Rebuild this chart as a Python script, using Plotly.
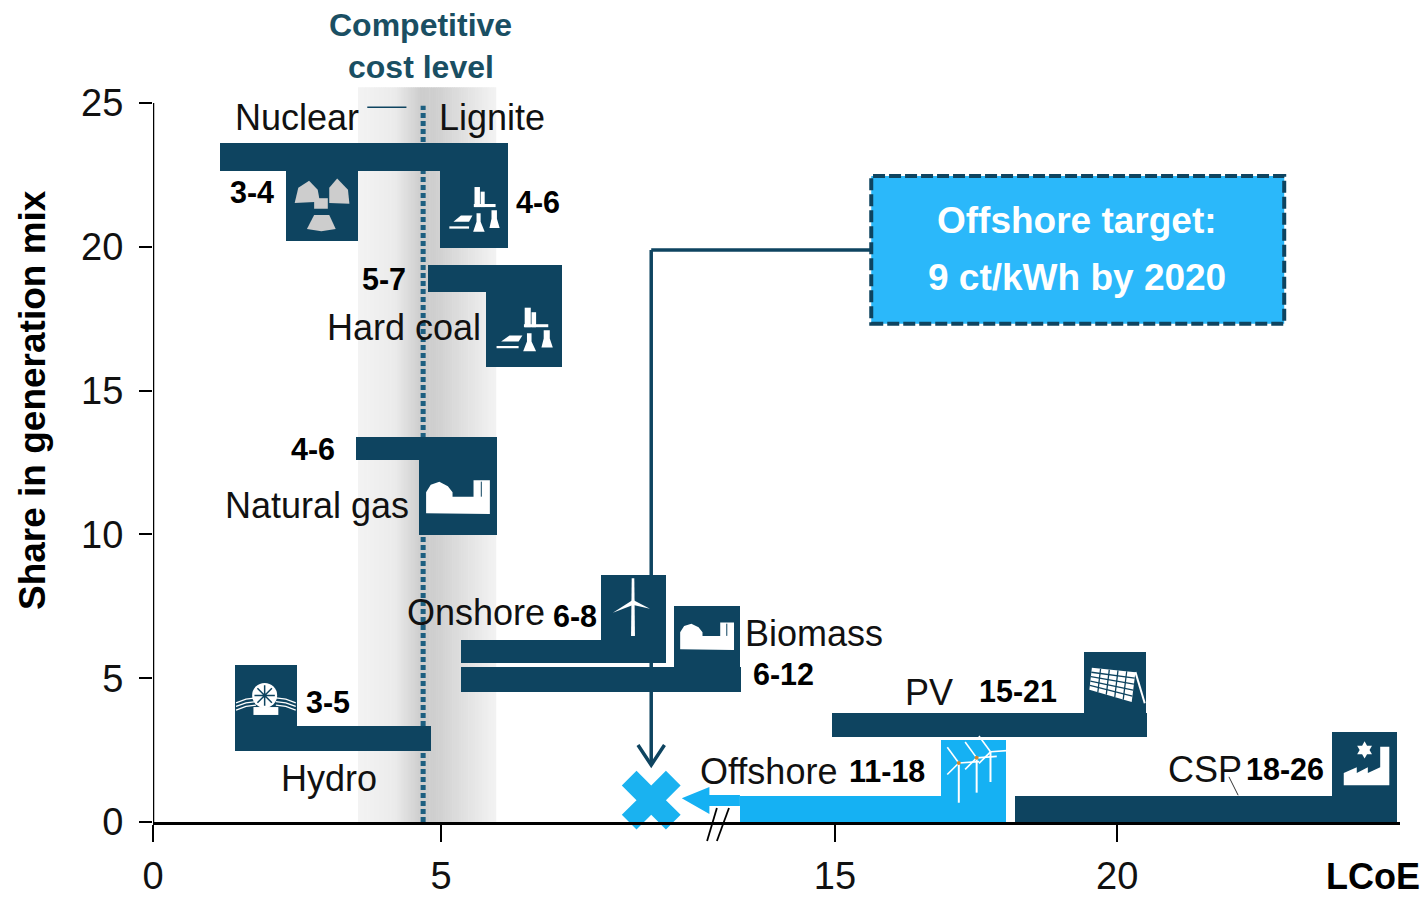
import numpy as np
import plotly.graph_objects as go

NAVY = "#0e4460"
SKY = "#15b1f3"
FONT = "Liberation Sans, Arial, sans-serif"

# ---- axes ----
x_tick_pos = [0, 5, 11.84, 16.74]
x_tick_text = ["0", "5", "15", "20"]
y_ticks = [0, 5, 10, 15, 20, 25]

# ---- technology blocks: long bar plus icon box ----
tech = ["Nuclear", "Lignite", "Hard coal", "Natural gas", "Onshore", "Biomass", "Hydro", "PV", "CSP"]
bar_start = [1.16, 3.56, 4.77, 3.52, 5.35, 5.35, 1.42, 11.79, 14.97]
bar_end = [3.56, 6.16, 7.10, 5.97, 8.91, 10.21, 4.83, 17.26, 21.60]
bar_low = [22.64, 22.64, 18.43, 12.59, 5.53, 4.52, 2.47, 2.96, 0.0]
bar_high = [23.61, 23.61, 19.37, 13.39, 6.33, 5.39, 3.34, 3.79, 0.90]
box_start = [2.31, 4.98, 5.78, 4.62, 7.78, 9.05, 1.42, 16.16, 20.47]
box_end = [3.56, 6.16, 7.10, 5.97, 8.91, 10.19, 2.50, 17.24, 21.60]
box_low = [20.20, 19.96, 15.82, 9.98, 6.33, 5.39, 3.34, 3.79, 0.90]
box_high = [22.64, 22.64, 18.43, 12.59, 8.59, 7.51, 5.46, 5.91, 3.13]

# offshore block (highlighted)
off_start, off_end, off_top = 10.19, 14.81, 0.90
off_box_start, off_box_top = 13.68, 2.85
arrow_x = [9.18, 9.66, 9.66, 10.19, 10.19, 9.66, 9.66, 9.18]
arrow_y = [0.83, 1.22, 0.94, 0.94, 0.56, 0.56, 0.28, 0.83]
turbine_x = [13.99, 14.30, 14.54]
turbine_hub = [2.05, 2.23, 2.44]
turbine_foot = [0.67, 1.02, 1.39]
blade_dx = [-0.20, 0.35, -0.20]
blade_dy = [0.55, 0.05, -0.40]

# ---- competitive band ----
band_left, band_right, band_top = 3.56, 5.95, 25.55
band_stops = [3.56, 4.20, 4.65, 4.95, 5.50, 5.95]
band_stop_grays = [243, 235, 205, 208, 228, 243]
competitive_x = 4.69
competitive_top = 24.9

# ---- target ----
target_x = 8.65
target_y = 0.76
conn_x = [12.47, 8.65, 8.65]
conn_y = [19.89, 19.89, 1.98]
head_x = [8.42, 8.65, 8.88]
head_y = [2.68, 1.98, 2.68]
callout = dict(x0=12.47, x1=19.64, y0=17.32, y1=22.46)

# ---- text ----
light_labels = [("Nuclear", 2.50, 24.51), ("Lignite", 5.89, 24.51), ("Hard coal", 4.36, 17.18),
                ("Natural gas", 2.85, 10.99), ("Onshore", 5.61, 7.30), ("Biomass", 11.48, 6.54),
                ("Hydro", 3.06, 1.50), ("PV", 13.47, 4.49), ("Offshore", 10.68, 1.77), ("CSP", 18.26, 1.84)]
range_labels = [("3-4", 1.72, 21.91), ("4-6", 6.68, 21.56), ("5-7", 4.01, 18.88), ("4-6", 2.78, 12.97),
                ("6-8", 7.33, 7.16), ("6-12", 10.94, 5.15), ("3-5", 3.04, 4.17), ("15-21", 15.02, 4.55),
                ("11-18", 12.74, 1.77), ("18-26", 19.65, 1.84)]

# ---- icons, as fractions of their box (x from left, y from top) ----
trefoil = [[(.12, .46), (.17, .24), (.32, .14), (.44, .27), (.47, .44)],
           [(.60, .46), (.60, .24), (.71, .11), (.86, .27), (.88, .47)],
           [(.29, .83), (.39, .63), (.60, .63), (.69, .83), (.49, .86)],
           [(.39, .39), (.58, .39), (.58, .54), (.39, .54)]]
coal_plant = [[(.51, .21), (.59, .21), (.59, .47), (.51, .47)],
              [(.60, .27), (.66, .27), (.66, .47), (.60, .47)],
              [(.50, .43), (.82, .43), (.82, .47), (.50, .47)],
              [(.54, .55), (.60, .55), (.60, .66), (.66, .79), (.49, .79), (.54, .66)],
              [(.76, .51), (.84, .51), (.84, .62), (.88, .74), (.73, .74), (.76, .62)],
              [(.20, .66), (.31, .58), (.48, .58), (.43, .66)],
              [(.14, .72), (.43, .72), (.43, .75), (.14, .75)]]
gas_plant = [[(.09, .71), (.09, .43), (.15, .33), (.26, .29), (.37, .35), (.43, .43), (.43, .49),
              (.70, .49), (.70, .27), (.91, .27), (.91, .72)]]
wind = [[(.47, .05), (.51, .05), (.52, .94), (.46, .94)],
        [(.48, .39), (.18, .58), (.50, .46)],
        [(.50, .39), (.75, .52), (.48, .46)]]
factory = [[(.18, .83), (.18, .64), (.38, .55), (.38, .64), (.55, .55), (.55, .64), (.74, .55),
            (.74, .23), (.88, .23), (.88, .83)]]
hydro_base = [[(.30, .69), (.70, .69), (.70, .82), (.30, .82)]]
pv_panel = [[(.13, .26), (.83, .33), (.77, .82), (.09, .62)]]
icons = {"Nuclear": (trefoil, "#cdcdcd"), "Lignite": (coal_plant, "white"), "Hard coal": (coal_plant, "white"),
         "Natural gas": (gas_plant, "white"), "Biomass": (gas_plant, "white"), "Onshore": (wind, "white"),
         "CSP": (factory, "white"), "Hydro": (hydro_base, "white"), "PV": (pv_panel, "white")}


def place(name, fx, fy):
    i = tech.index(name)
    return (box_start[i] + fx * (box_end[i] - box_start[i]),
            box_high[i] - fy * (box_high[i] - box_low[i]))


fig = go.Figure()

# icon-box blocks
xs = bar_start + box_start
xe = bar_end + box_end
lo = bar_low + box_low
hi = bar_high + box_high
fig.add_trace(go.Bar(orientation="h", base=xs, x=[b - a for a, b in zip(xs, xe)],
                     y=[(a + b) / 2 for a, b in zip(lo, hi)], width=[b - a for a, b in zip(lo, hi)],
                     marker=dict(color=NAVY, line=dict(width=0)), hoverinfo="skip", showlegend=False))
# offshore block
fig.add_trace(go.Bar(orientation="h", base=[off_start, off_box_start], x=[off_end - off_start, off_end - off_box_start],
                     y=[off_top / 2, (off_top + off_box_top) / 2], width=[off_top, off_box_top - off_top],
                     marker=dict(color=SKY, line=dict(width=0)), hoverinfo="skip", showlegend=False))


def line(x, y, color="black", width=2, **kw):
    fig.add_trace(go.Scatter(x=x, y=y, mode="lines", line=dict(color=color, width=width), cliponaxis=False,
                             hoverinfo="skip", showlegend=False, **kw))


# icons
for name, (polys, color) in icons.items():
    for poly in polys:
        pts = [place(name, *p) for p in poly + poly[:1]]
        fig.add_trace(go.Scatter(x=[p[0] for p in pts], y=[p[1] for p in pts], mode="lines", fill="toself",
                                 fillcolor=color, line=dict(width=0, color=color), hoverinfo="skip", showlegend=False))

# hydro wheel and waves
wheel = place("Hydro", .48, .50)
fig.add_trace(go.Scatter(x=[wheel[0]], y=[wheel[1]], mode="markers", marker=dict(size=25, color="white"),
                         hoverinfo="skip", showlegend=False))
fig.add_trace(go.Scatter(x=[wheel[0]], y=[wheel[1]], mode="markers",
                         marker=dict(size=17, symbol="asterisk-open", color=NAVY, line=dict(width=1.5, color=NAVY)),
                         hoverinfo="skip", showlegend=False))
for off in (0, .06, .12):
    pts = [place("Hydro", a, b + off) for a, b in [(.02, .62), (.18, .56), (.34, .54)]]
    line([p[0] for p in pts], [p[1] for p in pts], "white", 1.3)
    pts = [place("Hydro", a, b + off) for a, b in [(.66, .54), (.82, .56), (.98, .62)]]
    line([p[0] for p in pts], [p[1] for p in pts], "white", 1.3)

# PV grid and support
c = [np.array(p) for p in pv_panel[0]]
for t in (.2, .4, .6, .8):
    a, b = place("PV", *(c[0] + t * (c[3] - c[0]))), place("PV", *(c[1] + t * (c[2] - c[1])))
    line([a[0], b[0]], [a[1], b[1]], NAVY, 1.3)
    a, b = place("PV", *(c[0] + t * (c[1] - c[0]))), place("PV", *(c[3] + t * (c[2] - c[3])))
    line([a[0], b[0]], [a[1], b[1]], NAVY, 1.3)
a, b = place("PV", .83, .33), place("PV", .98, .84)
line([a[0], b[0]], [a[1], b[1]], "white", 2)

# CSP sun
sun = place("CSP", .50, .28)
fig.add_trace(go.Scatter(x=[sun[0]], y=[sun[1]], mode="markers", marker=dict(size=13, color="white", symbol="hexagram"),
                         hoverinfo="skip", showlegend=False))

# gas chimney seam
for name in ("Natural gas", "Biomass"):
    a, b = place(name, .80, .29), place(name, .80, .49)
    line([a[0], b[0]], [a[1], b[1]], NAVY, 1)

# offshore turbines
for tx, hub, foot in zip(turbine_x, turbine_hub, turbine_foot):
    line([tx, tx], [hub, foot], "white", 2)
    for dx, dy in zip(blade_dx, blade_dy):
        line([tx, tx + dx], [hub, hub + dy], "white", 1.6)
fig.add_trace(go.Scatter(x=turbine_x[:2], y=turbine_hub[:2], mode="markers", marker=dict(size=4, color="#d08a30"),
                         hoverinfo="skip", showlegend=False))

# offshore arrow
fig.add_trace(go.Scatter(x=arrow_x, y=arrow_y, mode="lines", fill="toself", fillcolor=SKY, line=dict(width=0, color=SKY),
                         hoverinfo="skip", showlegend=False))

# y axis line and small leader lines
line([0, 0], [0, 25], "black", 2.5)
line([3.72, 4.40], [24.85, 24.85], NAVY, 1.5)
line([18.68, 18.84], [1.57, 0.93], "#333333", 1)

# arrowhead and target cross
line(head_x, head_y, NAVY, 3.5)
fig.add_trace(go.Scatter(x=[target_x], y=[target_y], mode="markers", cliponaxis=False,
                         marker=dict(symbol="x", size=52, color="#1ab2f0", line=dict(width=0)),
                         hoverinfo="skip", showlegend=False))

# shapes under the bars
shapes = []
edges = np.linspace(band_left, band_right, 61)
for a, b in zip(edges[:-1], edges[1:]):
    g = int(round(np.interp((a + b) / 2, band_stops, band_stop_grays)))
    shapes.append(dict(type="rect", layer="below", xref="x", yref="y", x0=a, x1=b + 0.01, y0=0,
                       y1=band_top, fillcolor=f"rgb({g},{g},{g})", line=dict(width=0)))
shapes.append(dict(type="line", layer="below", xref="x", yref="y", x0=competitive_x, x1=competitive_x, y0=0,
                   y1=competitive_top, line=dict(color="#1d5f80", width=5, dash="5px,3px")))
for i in range(2):
    shapes.append(dict(type="line", layer="below", xref="x", yref="y", x0=conn_x[i], x1=conn_x[i + 1], y0=conn_y[i],
                       y1=conn_y[i + 1], line=dict(color=NAVY, width=3.5)))
shapes.append(dict(type="rect", layer="above", xref="x", yref="y", fillcolor="#2bb8fa",
                   line=dict(color=NAVY, width=4, dash="12px,4px"), **callout))
# axis-break marks reach below the axis, so they are referenced to the paper in y
for bx0, bx1 in [(9.62, 9.79), (9.79, 10.0)]:
    shapes.append(dict(type="line", layer="above", xref="x", yref="paper", x0=bx0, x1=bx1, y0=-0.0231, y1=0.017,
                       line=dict(color="black", width=1.8)))

# annotations
ann = []


def text(t, x, y, size, color="black", bold=False, ref="", **kw):
    ann.append(dict(text=f"<b>{t}</b>" if bold else t, x=x, y=y, xref="paper" if ref else "x",
                    yref="paper" if ref else "y", showarrow=False, xanchor="center",
                    yanchor="middle", font=dict(family=FONT, size=size, color=color), **kw))


for t, x, y in light_labels:
    text(t, x, y, 36, "#111111")
for t, x, y in range_labels:
    text(t, x, y, 30.5, "black", bold=True)
text("Competitive", 4.65, 27.71, 32, "#1a4f63", bold=True)
text("cost level", 4.65, 26.25, 32, "#1a4f63", bold=True)
text("Offshore target:", 16.04, 20.93, 37, "white", bold=True)
text("9 ct/kWh by 2020", 16.04, 18.92, 37, "white", bold=True)
text("LCoE", 0.9783, -0.0668, 36, "black", bold=True, ref="paper")
text("Share in generation mix", -0.0962, 0.5134, 37, "black", bold=True, ref="paper", textangle=-90)

fig.update_layout(
    width=1427, height=898, margin=dict(l=153, r=27, t=0, b=76, autoexpand=False), paper_bgcolor="white",
    plot_bgcolor="white", barmode="overlay", bargap=0, showlegend=False, shapes=shapes, annotations=ann,
    xaxis=dict(range=[0, 21.65], tickvals=x_tick_pos, ticktext=x_tick_text, showgrid=False, zeroline=False,
               automargin=False, showline=True, linecolor="black", linewidth=2.5, ticks="outside", ticklen=17,
               tickwidth=2, tickcolor="black", ticklabelstandoff=2,
               tickfont=dict(family=FONT, size=38, color="#111111")),
    yaxis=dict(range=[0, 28.58], tickvals=y_ticks, showgrid=False, zeroline=False, showline=False, ticks="outside",
               automargin=False, ticklen=13, tickwidth=2, tickcolor="black", ticklabelstandoff=8,
               tickfont=dict(family=FONT, size=38, color="#111111")),
)
fig.write_html("out.html", config={"displayModeBar": False}, post_script="document.body.style.margin='0';")
